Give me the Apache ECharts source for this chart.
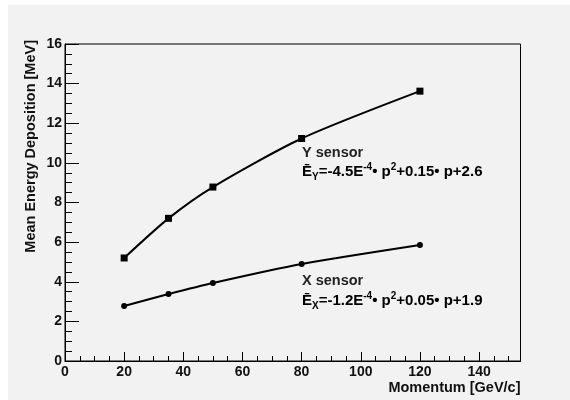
<!DOCTYPE html>
<html>
<head>
<meta charset="utf-8">
<script src="https://cdn.jsdelivr.net/npm/echarts@6/dist/echarts.min.js"></script>
<style>
html,body{margin:0;padding:0;background:#fff;}
#chart{width:570px;height:400px;}
</style>
</head>
<body>
<div id="chart"></div>
<script>
// Data
var momentum = [20, 35, 50, 80, 120];
var ySensor = [5.2, 7.2, 8.78, 11.23, 13.62];
var xSensor = [2.78, 3.38, 3.94, 4.9, 5.86];
var yTicks = [0, 2, 4, 6, 8, 10, 12, 14, 16];
var xTicks = [0, 20, 40, 60, 80, 100, 120, 140];

var FONT = 'Liberation Sans, Arial, Helvetica, sans-serif';
var chart = echarts.init(document.getElementById('chart'), null, {renderer: 'canvas'});

function pairs(xs, ys) { return xs.map(function (x, i) { return [x, ys[i]]; }); }

var rich = {
  n: {fontFamily: FONT, fontWeight: 'bold', fontSize: 15, color: '#111', lineHeight: 20, verticalAlign: 'middle'},
  sub: {fontFamily: FONT, fontWeight: 'bold', fontSize: 10, color: '#111', lineHeight: 20, verticalAlign: 'bottom'},
  sup: {fontFamily: FONT, fontWeight: 'bold', fontSize: 10, color: '#111', lineHeight: 20, verticalAlign: 'top'}
};

var option = {
  backgroundColor: '#ffffff',
  animation: false,
  grid: {left: 65, right: 49.5, top: 44, bottom: 39, show: true, borderColor: '#000', borderWidth: 1, backgroundColor: 'transparent'},
  xAxis: [{
    type: 'value', min: 0, max: 154, interval: 20,
    axisLine: {show: true, lineStyle: {color: '#000', width: 1}},
    axisTick: {show: true, inside: true, length: 9, lineStyle: {color: '#000'}},
    axisLabel: {show: true, margin: 4, showMaxLabel: false, fontFamily: FONT, fontWeight: 'bold', fontSize: 14, color: '#111',
      formatter: function (v) { return xTicks.indexOf(v) >= 0 ? String(v) : ''; }},
    splitLine: {show: false},
    name: 'Momentum [GeV/c]', nameLocation: 'end', nameGap: 0,
    nameTextStyle: {fontFamily: FONT, fontWeight: 'bold', fontSize: 14.5, color: '#111', align: 'right', verticalAlign: 'top', padding: [19, 0, 0, 0]}
  }, {
    type: 'value', min: 0, max: 154, interval: 5, position: 'bottom',
    axisLine: {show: false},
    axisTick: {show: true, inside: true, length: 5, lineStyle: {color: '#000'}},
    axisLabel: {show: false},
    splitLine: {show: false}
  }],
  yAxis: {
    type: 'value', min: 0, max: 16, interval: 2,
    axisLine: {show: true, lineStyle: {color: '#000', width: 1}},
    axisTick: {show: true, inside: true, length: 14, lineStyle: {color: '#000'}},
    minorTick: {show: true, splitNumber: 4, length: 7, lineStyle: {color: '#000'}},
    axisLabel: {margin: 3, fontFamily: FONT, fontWeight: 'bold', fontSize: 14, color: '#111',
      formatter: function (v) { return yTicks.indexOf(v) >= 0 ? String(v) : ''; }},
    splitLine: {show: false}
  },
  graphic: [
    {type: 'rect', z: -10, silent: true, shape: {x: 8, y: 5, width: 562, height: 395}, style: {fill: '#f2f2f2'}},
    {type: 'text', x: 31, y: 40, rotation: Math.PI / 2, z: 10,
      style: {text: 'Mean Energy Deposition [MeV]', fontFamily: FONT, fontWeight: 'bold', fontSize: 14.5, fill: '#111', align: 'right', verticalAlign: 'middle'}},
    {type: 'text', x: 302, y: 153, z: 10,
      style: {text: 'Y sensor', fontFamily: FONT, fontWeight: 'bold', fontSize: 14.5, fill: '#222', align: 'left', verticalAlign: 'middle'}},
    {type: 'text', x: 302, y: 172, z: 10,
      style: {text: '{n|Ē}{sub|Y}{n|=-4.5E}{sup|-4}{n|• p}{sup|2}{n|+0.15• p+2.6}', rich: rich, align: 'left', verticalAlign: 'middle'}},
    {type: 'text', x: 302, y: 281, z: 10,
      style: {text: 'X sensor', fontFamily: FONT, fontWeight: 'bold', fontSize: 14.5, fill: '#222', align: 'left', verticalAlign: 'middle'}},
    {type: 'text', x: 302, y: 301, z: 10,
      style: {text: '{n|Ē}{sub|X}{n|=-1.2E}{sup|-4}{n|• p}{sup|2}{n|+0.05• p+1.9}', rich: rich, align: 'left', verticalAlign: 'middle'}}
  ],
  series: [{
    name: 'Y sensor', type: 'line', smooth: 0.25, data: pairs(momentum, ySensor),
    symbol: 'rect', symbolSize: 7, showAllSymbol: true,
    lineStyle: {color: '#000', width: 2}, itemStyle: {color: '#000'}
  }, {
    name: 'X sensor', type: 'line', smooth: 0.25, data: pairs(momentum, xSensor),
    symbol: 'circle', symbolSize: 6, showAllSymbol: true,
    lineStyle: {color: '#000', width: 2}, itemStyle: {color: '#000'}
  }]
};
chart.setOption(option);
</script>
</body>
</html>
